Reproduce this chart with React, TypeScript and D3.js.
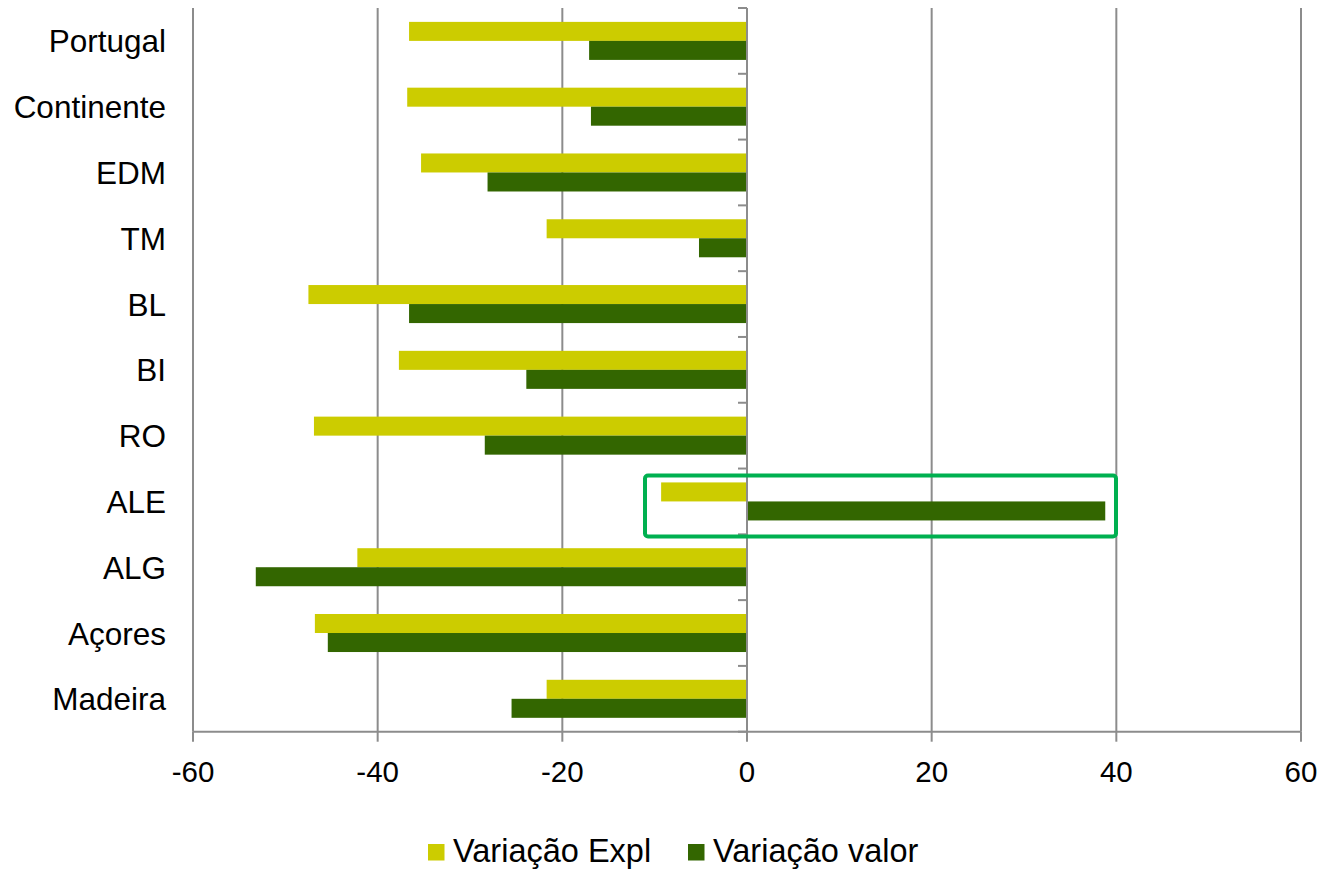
import React from "react";
import * as d3 from "d3";

const categories = ["Portugal", "Continente", "EDM", "TM", "BL", "BI", "RO", "ALE", "ALG", "Açores", "Madeira"];
const seriesNames = ["Variação Expl", "Variação valor"];
const variacaoExpl = [-36.6, -36.8, -35.3, -21.7, -47.5, -37.7, -46.9, -9.3, -42.2, -46.8, -21.7];
const variacaoValor = [-17.1, -16.9, -28.1, -5.2, -36.6, -23.9, -28.4, 38.8, -53.2, -45.4, -25.5];
const xTicks = [-60, -40, -20, 0, 20, 40, 60];
const colors = ["#cccc00", "#336600"];
const highlightCategory = "ALE";

const W = 1328;
const H = 872;
const left = 193, right = 1301, top = 8, bottom = 731.7;
const FONT = "Liberation Sans, Arial, sans-serif";
const GRID = "#8c8c8c";

export default function App() {
  const x = d3.scaleLinear().domain([-60, 60]).range([left, right]);
  const y = d3.scaleBand().domain(categories).range([top, bottom]).paddingInner(0).paddingOuter(0);
  const sub = d3.scaleBand().domain(seriesNames).range([0, y.bandwidth()]).paddingInner(0).paddingOuter(0.73);
  const values = [variacaoExpl, variacaoValor];
  const boundaries = d3.range(categories.length + 1).map((i) => top + i * y.step());
  const hy = y(highlightCategory)!;

  return (
    <svg width={W} height={H} style={{ display: "block", position: "absolute", left: 0, top: 0 }} fontFamily={FONT}>
      <rect x={0} y={0} width={W} height={H} fill="#fff" />
      {xTicks.filter((t) => t !== 0).map((t) => (
        <line key={t} x1={x(t)} x2={x(t)} y1={top} y2={bottom} stroke={GRID} strokeWidth={2} />
      ))}
      {categories.map((c, i) =>
        seriesNames.map((s, k) => {
          const v = values[k][i];
          const y0 = y(c)! + sub(s)!;
          return (
            <rect key={c + s} x={Math.min(x(0), x(v))} y={y0} width={Math.abs(x(v) - x(0))} height={sub.bandwidth()} fill={colors[k]} />
          );
        })
      )}
      <line x1={x(0)} x2={x(0)} y1={top} y2={bottom} stroke={GRID} strokeWidth={2} />
      {boundaries.map((b, i) => (
        <line key={i} x1={x(0) - 9} x2={x(0)} y1={b} y2={b} stroke={GRID} strokeWidth={2} />
      ))}
      <line x1={left} x2={right} y1={bottom} y2={bottom} stroke={GRID} strokeWidth={2} />
      {xTicks.map((t) => (
        <g key={t}>
          <line x1={x(t)} x2={x(t)} y1={bottom} y2={bottom + 10} stroke={GRID} strokeWidth={2} />
          <text x={x(t)} y={782} textAnchor="middle" fontSize={29.5} fill="#000">
            {t}
          </text>
        </g>
      ))}
      {categories.map((c) => (
        <text key={c} x={166} y={y(c)! + y.bandwidth() / 2 + 11.5} textAnchor="end" fontSize={31.5} fill="#000">
          {c}
        </text>
      ))}
      <rect x={645} y={hy + 7} width={471} height={61} rx={3} fill="none" stroke="#00b050" strokeWidth={4} />
      {seriesNames.map((s, k) => {
        const lx = k === 0 ? 428 : 688;
        return (
          <g key={s}>
            <rect x={lx} y={844} width={16.5} height={16.5} fill={colors[k]} />
            <text x={lx + 25} y={862} fontSize={32.5} fill="#000">
              {s}
            </text>
          </g>
        );
      })}
    </svg>
  );
}
